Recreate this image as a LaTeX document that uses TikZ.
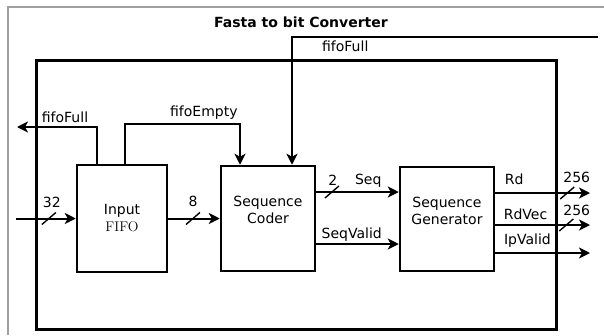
\documentclass[tikz,border=0pt]{standalone}
\usepackage{fontspec}
\setsansfont{DejaVu Sans}
\usetikzlibrary{arrows.meta}
\tikzset{
  blk/.style={draw, line width=2.5pt, inner sep=0pt, align=center},
  sig/.style={line width=2pt, -{Stealth[length=11pt,width=11pt,inset=3pt]}},
  bus/.style={line width=1.4pt},
  lbl/.style={inner sep=3pt},
}
\newcommand{\busmark}[1]{\draw[bus] ([shift={(-7,6)}]#1) -- ([shift={(7,-6)}]#1);}
\begin{document}
\begin{tikzpicture}[x=1pt, y=-1pt, font=\fontsize{14}{17}\selectfont\sffamily]
\useasboundingbox (0,0) rectangle (604,335);
% frame of the screenshot
\draw[line width=1.5pt, gray!75] (8,335) -- (8,7) -- (604,7);
\node[font=\fontsize{14}{17}\selectfont\sffamily\bfseries] (title) at (301,22) {Fasta to bit Converter};
% top level block
\node[draw, line width=3pt, minimum width=520pt, minimum height=269pt] (conv) at (296,194.5) {};
% blocks
\node[blk, minimum width=90pt, minimum height=107pt] (fifo) at (122,218.5) {Input\\\rmfamily FIFO};
\node[blk, minimum width=94pt, minimum height=105pt] (coder) at (268,218.5) {Sequence\\Coder\\\mbox{}};
\node[blk, minimum width=94pt, minimum height=104pt] (gen) at (447,219) {Sequence\\Generator\\\mbox{}};
% ports
\coordinate (din) at (16,218.5);
\coordinate (fullout) at (17,127);
\coordinate (fullin) at (598,37);
\coordinate (rdout) at (590,193);
\coordinate (rdvout) at (590,225);
\coordinate (ipvout) at (590,253);
% input side
\draw[sig] (din) -- coordinate[pos=0.55] (s32) node[lbl, pos=0.6, above=6.5pt] (n32) {32} (din -| fifo.west);
\busmark{s32}
\draw[sig] ([xshift=-25pt]fifo.north) |- node[lbl, pos=0.7, above=0pt] (lfull) {fifoFull} (fullout);
\draw[sig] ([xshift=3pt]fifo.north) -- ++(0,-40) -| node[lbl, pos=0.343, above=0pt] (lempty) {fifoEmpty} ([xshift=-28pt]coder.north);
\draw[sig] (fullin) -| node[lbl, pos=0.413, below=0pt] (lfullin) {fifoFull} ([xshift=24pt]coder.north);
\draw[sig] (fifo.east) -- coordinate[pos=0.48] (s8) node[lbl, pos=0.48, above=7.5pt] (n8) {8} (coder.west);
\busmark{s8}
% coder to generator
\draw[sig] ([yshift=26.5pt]coder.east) -- coordinate[pos=0.19] (s2) node[lbl, pos=0.2, above=2.5pt] (n2) {2} node[lbl, pos=0.63, above=1pt] (lseq) {Seq} ([yshift=26.5pt]coder.east -| gen.west);
\busmark{s2}
\draw[sig] ([yshift=-25.5pt]coder.east) -- node[lbl, pos=0.43, above=-1pt] (lsv) {SeqValid} ([yshift=-25.5pt]coder.east -| gen.west);
% outputs
\draw[sig] (gen.east |- rdout) -- coordinate[pos=0.76] (s256a) node[lbl, pos=0.2, above=4.5pt] (lrd) {Rd} node[lbl, pos=0.86, above=6.5pt] (n256a) {256} (rdout);
\busmark{s256a}
\draw[sig] (gen.east |- rdvout) -- coordinate[pos=0.75] (s256b) node[lbl, pos=0.32, above=1.5pt] (lrdv) {RdVec} node[lbl, pos=0.86, above=5.5pt] (n256b) {256} (rdvout);
\busmark{s256b}
\draw[sig] (gen.east |- ipvout) -- node[lbl, pos=0.34, above=1.5pt] (lipv) {IpValid} (ipvout);
\end{tikzpicture}
\end{document}
